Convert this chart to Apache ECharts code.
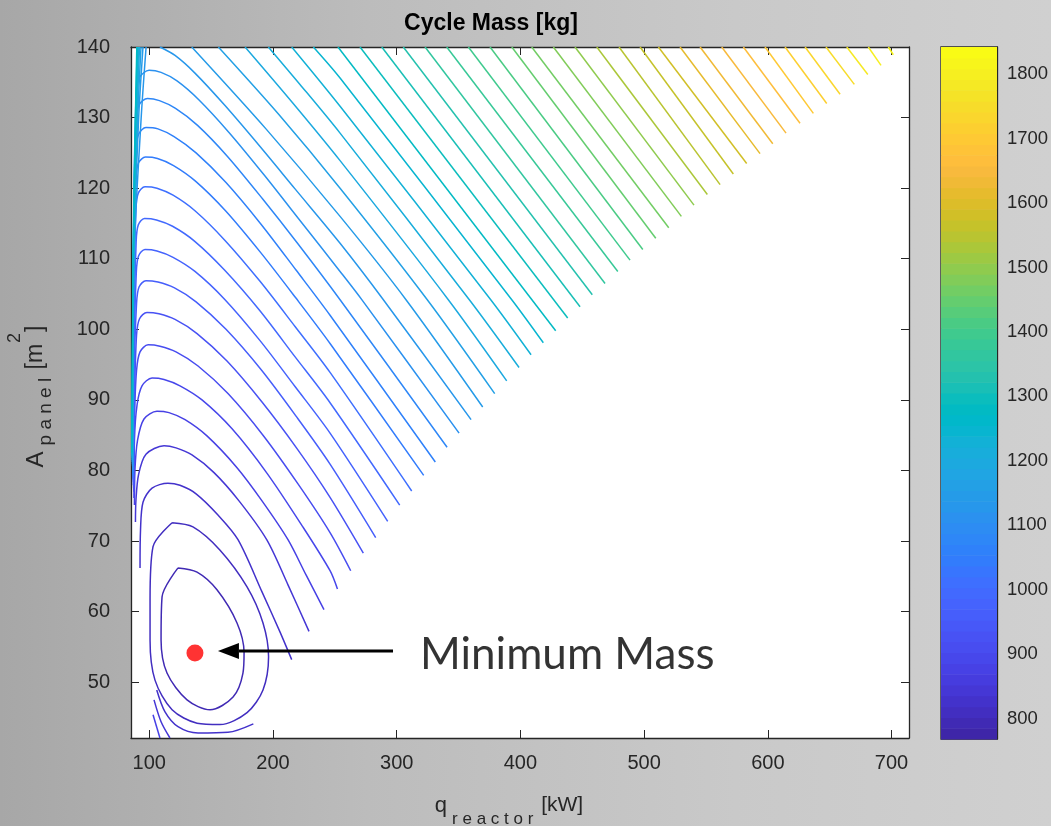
<!DOCTYPE html>
<html>
<head>
<meta charset="utf-8">
<title>Cycle Mass</title>
<script src="https://cdn.jsdelivr.net/npm/echarts@6/dist/echarts.min.js"></script>
<style>
  html, body { margin: 0; padding: 0; }
  #chart {
    width: 1051px; height: 826px;
    background: linear-gradient(90deg, #a7a7a7 0%, #bcbcbc 35%, #c9c9c9 70%, #d0d0d0 100%);
  }
</style>
</head>
<body>
<div id="chart"></div>
<script>
// ---- axis ranges and ticks ----
const qRange = [85.2, 714.1];          // reactor heat, kW
const aRange = [42.1, 140];            // panel area, m^2
const massRange = [768.5, 1842];       // colour bar limits, kg
const qTicks = [100, 200, 300, 400, 500, 600, 700];
const aTicks = [50, 60, 70, 80, 90, 100, 110, 120, 130, 140];
const massTicks = [800, 900, 1000, 1100, 1200, 1300, 1400, 1500, 1600, 1700, 1800];

// ---- minimum-mass design point and its annotation ----
const optimum = [136.9, 54.15];
const arrowTail = [297.0, 54.43];
const arrowTip = [155.5, 54.43];
const noteAnchor = [318.8, 53.9];

// ---- contour levels, kg (one per contour below) ----
const levels = [789, 810, 831, 852, 873, 894, 915, 936, 957, 978,
  999, 1020, 1041, 1062, 1083, 1104, 1125, 1146, 1167, 1188,
  1209, 1230, 1251, 1272, 1293, 1314, 1335, 1357, 1378, 1399,
  1420, 1441, 1462, 1483, 1504, 1525, 1546, 1567, 1588, 1609,
  1630, 1651, 1672, 1693, 1714, 1735, 1756, 1777, 1798, 1820];

// ---- contour lines: pieces of [q kW, A m^2] ----
const k01 = [[[123.2,66.2],[138.6,65.6],[154.7,63.1],[170.9,58.4],[176.6,54.2],[175.7,51.3],[167.7,47.9],[149.1,46.1],[130.5,47.5],[114.3,51.3],[109.5,56.0],[110.3,62.1],[123.2,66.2]]];
const k02 = [[[118.4,72.6],[135.3,72.0],[157.2,68.7],[179.0,63.5],[191.9,58.4],[196.4,53.6],[191.9,48.9],[179.0,45.7],[157.2,44.0],[138.6,44.2],[118.4,46.1],[104.6,50.3],[100.6,56.0],[100.6,61.7],[103.0,69.2],[118.4,72.6]]];
const k03 = [[[92.5,66.2],[92.9,71.6],[94.9,75.5],[102.2,77.5],[115.1,78.2],[124.8,77.9],[137.8,76.7],[155.5,73.7],[171.7,70.2],[191.1,62.8],[205.7,57.1],[215.1,53.2]],
  [[106.0,48.9],[112.7,45.8],[123.2,43.7],[139.4,42.8],[163.6,42.9],[184.1,44.1]]];
const k04 = [[[88.8,72.7],[89.2,75.8],[91.3,79.4],[97.3,82.3],[111.9,83.5],[121.6,83.2],[134.5,82.2],[152.3,79.7],[172.5,75.7],[194.9,70.2],[212.1,63.8],[229.1,57.2]],
  [[103.8,47.5],[109.5,44.4],[116.7,42.1]]];
const k05 = [[[88.0,75.1],[88.4,80.1],[90.5,84.3],[95.7,87.3],[106.2,88.4],[115.9,88.2],[128.9,87.2],[146.6,84.9],[170.9,80.4],[191.1,75.7],[212.1,70.2],[226.7,65.2],[241.2,60.3]],
  [[103.0,45.4],[108.6,42.1]]];
const k06 = [[[87.6,76.1],[88.0,84.3],[90.1,89.3],[94.1,92.0],[102.2,93.1],[111.9,92.9],[124.8,92.0],[142.6,90.0],[166.9,85.9],[195.2,79.6],[223.4,72.2],[246.1,65.8],[252.1,63.2]]];
const k07 = [[[87.5,77.0],[88.0,87.2],[89.7,94.2],[92.5,96.8],[99.0,97.8],[108.6,97.6],[121.6,96.8],[139.4,94.8],[163.6,90.9],[191.9,85.0],[220.2,78.1],[246.1,71.2],[262.8,65.8]]];
const k08 = [[[87.3,77.5],[88.0,90.0],[89.7,99.2],[92.1,101.5],[98.1,102.4],[107.8,102.2],[120.8,101.4],[138.6,99.4],[162.8,95.5],[191.1,89.7],[219.4,83.1],[246.1,76.2],[273.0,68.3]]];
const k09 = [[[87.1,77.9],[87.6,92.8],[89.7,103.7],[91.7,106.0],[97.3,106.9],[107.0,106.7],[120.0,105.9],[137.8,103.9],[162.0,100.0],[190.3,94.3],[218.6,87.7],[246.1,80.9],[283.0,70.5]]];
const k10 = [[[87.1,78.4],[87.6,95.7],[89.5,108.1],[91.3,110.4],[96.5,111.3],[106.2,111.1],[119.2,110.2],[136.9,108.2],[161.2,104.2],[189.5,98.4],[217.8,91.9],[246.1,85.3],[292.7,72.8]]];
const k11 = [[[87.0,78.7],[87.5,98.5],[89.4,112.5],[91.1,114.8],[96.1,115.7],[105.8,115.5],[118.8,114.6],[136.5,112.5],[160.8,108.4],[189.1,102.7],[217.4,96.2],[246.1,89.6],[302.4,75.1]]];
const k12 = [[[86.9,78.9],[87.4,101.3],[89.2,117.0],[91.1,119.3],[96.5,120.2],[106.2,120.0],[119.2,119.0],[136.9,116.8],[161.2,112.6],[189.5,106.8],[217.8,100.4],[246.1,93.9],[312.1,77.1]]];
const k13 = [[[86.8,79.2],[87.3,104.1],[89.2,121.3],[91.3,123.6],[96.9,124.4],[106.6,124.2],[119.6,123.2],[137.3,121.0],[161.6,116.8],[189.9,110.9],[218.2,104.5],[246.1,98.0],[321.8,79.3]]];
const k14 = [[[86.7,79.5],[87.2,107.0],[89.2,125.4],[91.5,127.7],[97.3,128.6],[107.0,128.4],[120.0,127.3],[137.8,125.0],[162.0,120.8],[190.3,114.9],[218.6,108.4],[246.1,102.0],[331.2,81.2]]];
const k15 = [[[86.7,79.8],[87.1,109.8],[89.2,129.5],[91.7,131.8],[98.5,132.7],[108.2,132.4],[121.2,131.3],[139.0,128.9],[163.2,124.5],[191.5,118.5],[219.8,112.2],[254.2,104.2],[340.7,83.3]]];
const k16 = [[[86.6,80.1],[87.1,112.6],[89.4,133.5],[92.1,135.7],[99.8,136.7],[109.5,136.4],[122.4,135.2],[140.2,132.5],[164.4,127.9],[192.7,121.9],[221.0,115.6],[254.2,108.2],[272.2,104.1],[350.4,85.3]]];
const k17 = [[[97.4,140],[93.3,129.6],[87.6,109.8],[86.5,80.6]],
  [[108.6,140],[120.8,138.8],[136.9,136.3],[161.2,131.7],[189.5,125.9],[217.8,119.9],[254.2,112.2],[289.2,104.2],[360.1,87.2]]];
const k18 = [[[94.9,140],[91.3,129.6],[87.5,109.8],[86.4,80.9]],
  [[134.3,140],[194.3,128.4],[254.2,116.0],[307.5,104.2],[369.5,89.0]]];
const k19 = [[[93.3,140],[90.5,129.6],[87.3,109.8],[86.3,81.2]],
  [[155.8,140],[204.9,130.4],[254.2,120.0],[324.7,104.2],[379.2,90.9]]];
const k20 = [[[92.1,140],[89.9,129.6],[87.2,109.8],[86.3,81.5]],
  [[177.4,140],[215.8,132.1],[254.2,123.9],[341.7,104.2],[388.9,92.7]]];
const k21 = [[[91.3,140],[89.5,129.6],[87.1,109.8],[86.2,81.8]],
  [[196.2,140],[221.8,134.7],[254.2,127.8],[358.7,104.2],[398.9,94.6]]];
const k22 = [[[90.6,140],[89.2,129.6],[87.1,109.8],[86.1,82.1]],
  [[215.1,140],[254.2,131.6],[376.0,104.2],[408.6,96.4]]];
const k23 = [[[90.2,140],[88.9,129.6],[87.0,109.8],[86.0,82.3]],
  [[232.6,140],[254.2,135.6],[393.0,104.2],[418.5,98.1]]];
const k24 = [[[89.9,140],[88.7,129.6],[86.9,109.8],[85.9,82.6]], [[252.5,140],[428.5,99.8]]];
const k25 = [[[270.3,140],[438.2,101.6]]];
const k26 = [[[287.9,140],[448.2,103.2]]];
const k27 = [[[305.3,140],[458.1,104.9]]];
const k28 = [[[322.9,140],[468.4,106.5]]];
const k29 = [[[340.4,140],[478.7,108.2]]];
const k30 = [[[357.9,140],[488.6,109.8]]];
const k31 = [[[375.4,140],[498.9,111.3]]];
const k32 = [[[393.0,140],[509.4,112.9]]];
const k33 = [[[409.1,140],[519.9,114.4]]];
const k34 = [[[426.6,140],[530.1,116.0]]];
const k35 = [[[444.1,140],[540.3,117.6]]];
const k36 = [[[461.7,140],[551.1,119.1]]];
const k37 = [[[479.7,140],[561.4,120.5]]];
const k38 = [[[496.7,140],[572.1,122.0]]];
const k39 = [[[511.5,140],[582.9,123.5]]];
const k40 = [[[529.0,140],[593.7,124.9]]];
const k41 = [[[545.2,140],[604.0,126.3]]];
const k42 = [[[562.7,140],[614.7,127.8]]];
const k43 = [[[580.2,140],[626.0,129.2]]];
const k44 = [[[597.7,140],[636.8,130.6]]];
const k45 = [[[613.9,140],[647.6,132.0]]];
const k46 = [[[630.1,140],[658.4,133.3]]];
const k47 = [[[647.0,140],[669.9,134.7]]];
const k48 = [[[663.8,140],[680.8,136.1]]];
const k49 = [[[681.2,140],[691.5,137.4]]];
const k50 = [[[697.4,140],[701.4,138.9]]];

const contours = [k01, k02, k03, k04, k05, k06, k07, k08, k09, k10,
  k11, k12, k13, k14, k15, k16, k17, k18, k19, k20,
  k21, k22, k23, k24, k25, k26, k27, k28, k29, k30,
  k31, k32, k33, k34, k35, k36, k37, k38, k39, k40,
  k41, k42, k43, k44, k45, k46, k47, k48, k49, k50];

// ---- parula colour map, 64 entries ----
const PARULA = [
  [0.2422,0.1504,0.6603],[0.2504,0.1650,0.7076],[0.2578,0.1818,0.7511],[0.2647,0.1978,0.7952],
  [0.2706,0.2147,0.8364],[0.2751,0.2342,0.8710],[0.2783,0.2559,0.8991],[0.2803,0.2782,0.9221],
  [0.2813,0.3006,0.9414],[0.2810,0.3228,0.9579],[0.2795,0.3447,0.9717],[0.2760,0.3667,0.9829],
  [0.2699,0.3892,0.9906],[0.2602,0.4123,0.9952],[0.2440,0.4358,0.9988],[0.2206,0.4603,0.9973],
  [0.1963,0.4847,0.9892],[0.1834,0.5074,0.9798],[0.1786,0.5289,0.9682],[0.1764,0.5499,0.9520],
  [0.1687,0.5703,0.9359],[0.1540,0.5902,0.9218],[0.1460,0.6091,0.9079],[0.1380,0.6276,0.8973],
  [0.1248,0.6459,0.8883],[0.1113,0.6635,0.8763],[0.0952,0.6798,0.8598],[0.0689,0.6948,0.8394],
  [0.0297,0.7082,0.8163],[0.0036,0.7203,0.7917],[0.0067,0.7312,0.7660],[0.0433,0.7411,0.7394],
  [0.0964,0.7500,0.7120],[0.1408,0.7584,0.6842],[0.1717,0.7670,0.6554],[0.1938,0.7758,0.6251],
  [0.2161,0.7843,0.5923],[0.2470,0.7918,0.5567],[0.2906,0.7973,0.5188],[0.3406,0.8008,0.4789],
  [0.3909,0.8029,0.4354],[0.4456,0.8024,0.3909],[0.5044,0.7993,0.3480],[0.5616,0.7942,0.3045],
  [0.6174,0.7876,0.2612],[0.6720,0.7793,0.2227],[0.7242,0.7698,0.1910],[0.7738,0.7598,0.1646],
  [0.8203,0.7498,0.1535],[0.8634,0.7406,0.1596],[0.9035,0.7330,0.1774],[0.9393,0.7288,0.2100],
  [0.9728,0.7298,0.2394],[0.9956,0.7434,0.2371],[0.9970,0.7659,0.2199],[0.9952,0.7893,0.2028],
  [0.9892,0.8136,0.1885],[0.9786,0.8386,0.1766],[0.9676,0.8639,0.1643],[0.9610,0.8890,0.1537],
  [0.9597,0.9135,0.1423],[0.9628,0.9373,0.1265],[0.9691,0.9606,0.1064],[0.9769,0.9839,0.0805]
];

function bandIndex(v) {
  const i = Math.floor((v - massRange[0]) / (massRange[1] - massRange[0]) * PARULA.length);
  return Math.max(0, Math.min(PARULA.length - 1, i));
}
function rgb(c) {
  return 'rgb(' + c.map(t => Math.round(t * 255)).join(',') + ')';
}

const FONT = "'Liberation Sans', Arial, Helvetica, sans-serif";
const INK = '#262626';
const frameLine = { show: true, onZero: false, lineStyle: { color: INK, width: 1.3 } };
const plain = v => String(v);

const series = [];

// contour lines
contours.forEach((pieces, i) => {
  const color = rgb(PARULA[bandIndex(levels[i])]);
  pieces.forEach(piece => {
    series.push({
      type: 'line', xAxisIndex: 0, yAxisIndex: 0,
      data: piece, symbol: 'none', showSymbol: false,
      smooth: 0.3, clip: true, silent: true, z: 2,
      lineStyle: { color: color, width: 1.5 }
    });
  });
});

// colour bar bands
const bandStep = (massRange[1] - massRange[0]) / PARULA.length;
series.push({
  type: 'custom', xAxisIndex: 2, yAxisIndex: 2, silent: true, z: 1,
  data: PARULA.map((c, i) => [0.5, massRange[0] + (i + 0.5) * bandStep, i]),
  encode: { x: 0, y: 1 },
  renderItem: function (params, api) {
    const i = api.value(2);
    const lo = massRange[0] + i * bandStep;
    const a = api.coord([0, lo]);
    const b = api.coord([1, lo + bandStep]);
    return {
      type: 'rect',
      shape: { x: a[0], y: b[1], width: b[0] - a[0], height: a[1] - b[1] + 0.6 },
      style: { fill: rgb(PARULA[i]) }
    };
  }
});

// arrow pointing at the optimum
series.push({
  type: 'custom', xAxisIndex: 0, yAxisIndex: 0, silent: true, z: 6, clip: false,
  data: [[arrowTail[0], arrowTail[1], arrowTip[0], arrowTip[1]]],
  renderItem: function (params, api) {
    const p0 = api.coord([api.value(0), api.value(1)]);
    const p1 = api.coord([api.value(2), api.value(3)]);
    const dx = p0[0] - p1[0], dy = p0[1] - p1[1];
    const len = Math.sqrt(dx * dx + dy * dy);
    const ux = dx / len, uy = dy / len;
    const headLen = 21, headHalf = 8;
    const bx = p1[0] + ux * headLen, by = p1[1] + uy * headLen;
    return {
      type: 'group',
      children: [
        { type: 'line', shape: { x1: p0[0], y1: p0[1], x2: bx, y2: by },
          style: { stroke: '#000', lineWidth: 3 } },
        { type: 'polygon',
          shape: { points: [[p1[0], p1[1]], [bx - uy * headHalf, by + ux * headHalf], [bx + uy * headHalf, by - ux * headHalf]] },
          style: { fill: '#000' } }
      ]
    };
  }
});

// optimum marker
series.push({
  type: 'scatter', xAxisIndex: 0, yAxisIndex: 0, silent: true, z: 7,
  data: [optimum], symbol: 'circle', symbolSize: 17,
  itemStyle: { color: '#ff0000' }
});

// annotation text
series.push({
  type: 'scatter', xAxisIndex: 0, yAxisIndex: 0, silent: true, z: 7,
  data: [noteAnchor], symbolSize: 0,
  label: {
    show: true, position: 'right', distance: 0,
    formatter: 'Minimum Mass',
    fontFamily: 'Lato, Carlito, sans-serif', fontSize: 44, color: '#000'
  }
});

const chart = echarts.init(document.getElementById('chart'), null, { renderer: 'canvas' });
chart.setOption({
  animation: false,
  backgroundColor: 'transparent',
  title: {
    text: 'Cycle Mass [kg]', left: 486, top: 7, textAlign: 'center',
    textStyle: { fontFamily: FONT, fontSize: 23, fontWeight: 'bold', color: '#000' }
  },
  grid: [
    { left: 131, top: 47, width: 778, height: 691, show: true, backgroundColor: '#ffffff', borderWidth: 0,
      containLabel: false, outerBoundsMode: 'none' },
    { left: 941, top: 47, width: 56, height: 692, show: true, backgroundColor: 'transparent', borderColor: INK, borderWidth: 1.3,
      containLabel: false, outerBoundsMode: 'none' }
  ],
  xAxis: [
    { gridIndex: 0, type: 'value', min: qRange[0], max: qRange[1], position: 'bottom',
      axisLine: frameLine,
      axisTick: { show: true, inside: true, length: 8, customValues: qTicks, lineStyle: { color: INK } },
      axisLabel: { customValues: qTicks, formatter: plain, color: INK, fontSize: 20, fontFamily: FONT, margin: 15 },
      splitLine: { show: false },
      name: '{q|q}{s|r e a c t o r}{u| [kW]}', nameLocation: 'middle', nameGap: 45,
      nameTextStyle: {
        color: INK, fontFamily: FONT,
        rich: {
          q: { fontSize: 22, fontFamily: FONT, color: INK },
          s: { fontSize: 17, fontFamily: FONT, color: INK, padding: [28, 2, 0, 5] },
          u: { fontSize: 21, fontFamily: FONT, color: INK, padding: [0, 22, 0, 0] }
        }
      }
    },
    { gridIndex: 0, type: 'value', min: qRange[0], max: qRange[1], position: 'top',
      axisLine: frameLine,
      axisTick: { show: true, inside: true, length: 8, customValues: qTicks, lineStyle: { color: INK } },
      axisLabel: { show: false }, splitLine: { show: false } },
    { gridIndex: 1, type: 'value', min: 0, max: 1, show: false }
  ],
  yAxis: [
    { gridIndex: 0, type: 'value', min: aRange[0], max: aRange[1], position: 'left',
      axisLine: frameLine,
      axisTick: { show: true, inside: true, length: 8, customValues: aTicks, lineStyle: { color: INK } },
      axisLabel: { customValues: aTicks, formatter: plain, color: INK, fontSize: 20, fontFamily: FONT, margin: 21 },
      splitLine: { show: false },
      name: '{a|A}{s|p a n e l}{b| [m}{p|2}{b|]}', nameLocation: 'middle', nameGap: 65, nameRotate: 90,
      nameTextStyle: {
        color: INK, fontFamily: FONT, padding: [0, 8, 0, 0],
        rich: {
          a: { fontSize: 24, fontFamily: FONT, color: INK },
          s: { fontSize: 19, fontFamily: FONT, color: INK, padding: [20, 2, 0, 6] },
          b: { fontSize: 23, fontFamily: FONT, color: INK },
          p: { fontSize: 18, fontFamily: FONT, color: INK, padding: [0, 1, 42, 1] }
        }
      }
    },
    { gridIndex: 0, type: 'value', min: aRange[0], max: aRange[1], position: 'right',
      axisLine: frameLine,
      axisTick: { show: true, inside: true, length: 8, customValues: aTicks, lineStyle: { color: INK } },
      axisLabel: { show: false }, splitLine: { show: false } },
    { gridIndex: 1, type: 'value', min: massRange[0], max: massRange[1], position: 'right',
      axisLine: frameLine,
      axisTick: { show: true, inside: true, length: 7, customValues: massTicks, lineStyle: { color: INK } },
      axisLabel: { customValues: massTicks, formatter: plain, color: INK, fontSize: 18.5, fontFamily: FONT, margin: 10 },
      splitLine: { show: false } }
  ],
  series: series
});
</script>
</body>
</html>
